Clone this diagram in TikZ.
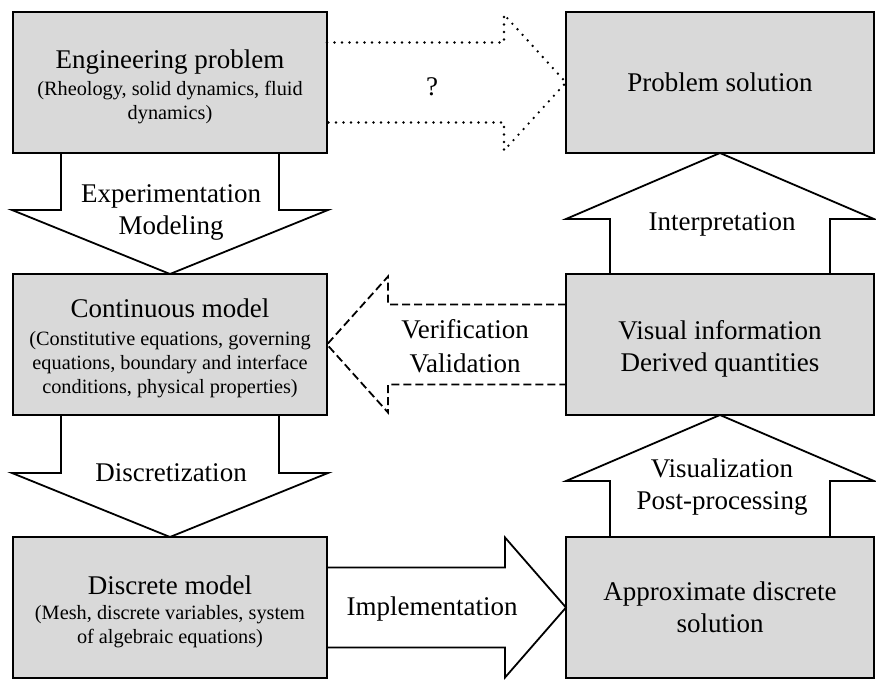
\documentclass[tikz,border=0pt]{standalone}
\usepackage{fontspec}
\setmainfont{Liberation Serif}
\usetikzlibrary{calc}

\definecolor{boxgray}{gray}{0.85}
\newcommand{\boxnote}{\fontsize{20.3}{24}\selectfont}
\newcommand{\boxlift}{\rule{0pt}{27pt}}

\begin{document}
\begin{tikzpicture}[x=1pt,y=-1pt,
    fatarrow/.style={draw, line width=1.8pt},
    dotarrow/.style={fatarrow, line width=2.6pt, line cap=round, dash pattern=on 0pt off 7.5pt},
    dasharrow/.style={fatarrow, dash pattern=on 8pt off 4pt}]

        \useasboundingbox (0,0) rectangle (876,680);

        \begin{scope}[every node/.style={rectangle, draw, line width=1.8pt, fill=boxgray, align=center,
            minimum height=141pt, inner sep=2pt, outer sep=0pt, font=\fontsize{27}{32}\selectfont}]
          \node[minimum width=314pt] (eng)    at (170,82.5)  {\boxlift Engineering problem\\[-5pt] \boxnote (Rheology, solid dynamics, fluid\\[-8pt] \boxnote dynamics)};
          \node[minimum width=314pt] (cont)   at (170,344.5) {\boxlift Continuous model\\[-4pt] \boxnote (Constitutive equations, governing\\[-8pt] \boxnote equations, boundary and interface\\[-8pt] \boxnote conditions, physical properties)};
          \node[minimum width=314pt] (disc)   at (170,607.5) {\boxlift Discrete model\\[-7pt] \boxnote (Mesh, discrete variables, system\\[-8pt] \boxnote of algebraic equations)};
          \node[minimum width=308pt] (sol)    at (720,82.5)  {Problem solution};
          \node[minimum width=308pt] (vis)    at (720,344.5) {\boxlift Visual information\\Derived quantities};
          \node[minimum width=308pt] (approx) at (720,607.5) {Approximate discrete\\solution};
        \end{scope}

        % down arrows
        \draw[fatarrow] ([xshift=-109pt]eng.south) |- ($(cont.north)+(-158,-64)$) -- (cont.north)
          -- ($(cont.north)+(158,-64)$) -| ([xshift=109pt]eng.south);
        \draw[fatarrow] ([xshift=-109pt]cont.south) |- ($(disc.north)+(-158,-64)$) -- (disc.north)
          -- ($(disc.north)+(158,-64)$) -| ([xshift=109pt]cont.south);

        % up arrows
        \draw[fatarrow] ([xshift=-110pt]vis.north) |- ($(sol.south)+(-154,66)$) -- (sol.south)
          -- ($(sol.south)+(154,66)$) -| ([xshift=110pt]vis.north);
        \draw[fatarrow] ([xshift=-110pt]approx.north) |- ($(vis.south)+(-154,66)$) -- (vis.south)
          -- ($(vis.south)+(154,66)$) -| ([xshift=110pt]approx.north);

        % sideways arrows
        \draw[dotarrow] ([yshift=40pt]eng.east) -| ($(sol.west)+(-62,-68)$) -- (sol.west)
          -- ($(sol.west)+(-62,68)$) |- ([yshift=-40pt]eng.east);
        \draw[dasharrow] ([yshift=40pt]vis.west) -| ($(cont.east)+(61,-68)$) -- (cont.east)
          -- ($(cont.east)+(61,68)$) |- ([yshift=-40pt]vis.west);
        \draw[fatarrow] ([yshift=40pt]disc.east) -| ($(approx.west)+(-61,-70)$) -- (approx.west)
          -- ($(approx.west)+(-61,70)$) |- ([yshift=-40pt]disc.east);

        \begin{scope}[every node/.style={align=center, inner sep=0pt, font=\fontsize{27}{32}\selectfont}]
          \node (guess)   at (432,87)  {?};
          \node (expmod)  at (171,212) {Experimentation\\Modeling};
          \node (discr)   at (171,473) {Discretization};
          \node (interp)  at (722,224) {Interpretation};
          \node (vispost) at (722,487) {Visualization\\Post-processing};
          \node (verval)  at (465,346) {Verification\\[2pt]Validation};
          \node (impl)    at (432,609) {Implementation};
        \end{scope}

      \end{tikzpicture}
\end{document}
